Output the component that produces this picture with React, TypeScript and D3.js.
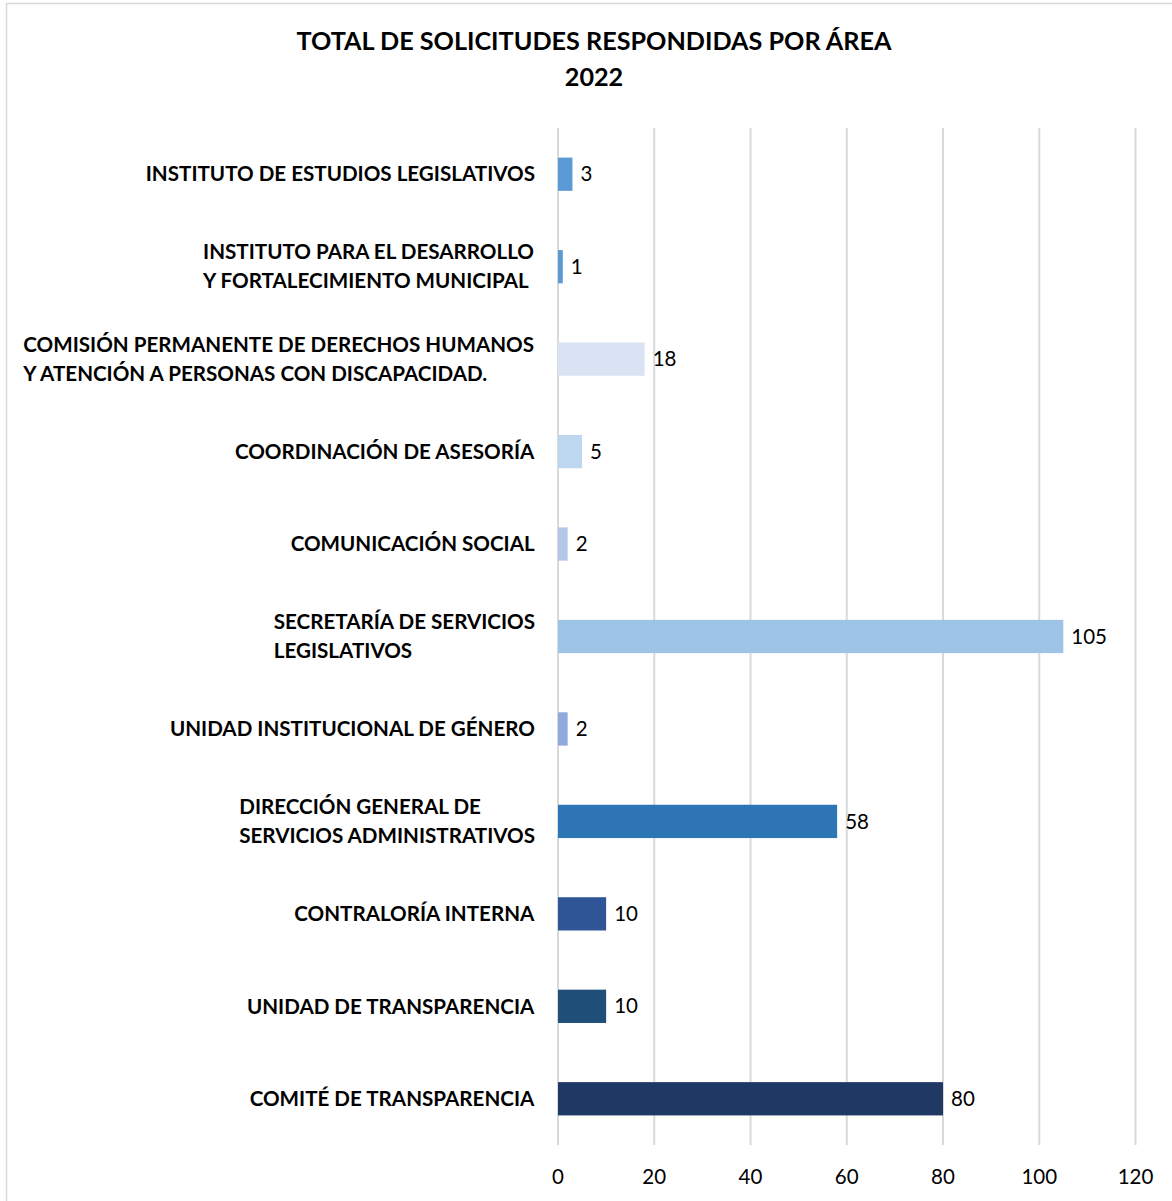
import { useEffect, useRef } from "react"
import * as d3 from "d3"

const categories = [
  "INSTITUTO DE ESTUDIOS LEGISLATIVOS",
  "INSTITUTO PARA EL DESARROLLO\nY FORTALECIMIENTO MUNICIPAL",
  "COMISIÓN PERMANENTE DE DERECHOS HUMANOS\nY ATENCIÓN A PERSONAS CON DISCAPACIDAD.",
  "COORDINACIÓN DE ASESORÍA",
  "COMUNICACIÓN SOCIAL",
  "SECRETARÍA DE SERVICIOS\nLEGISLATIVOS",
  "UNIDAD INSTITUCIONAL DE GÉNERO",
  "DIRECCIÓN GENERAL DE\nSERVICIOS ADMINISTRATIVOS",
  "CONTRALORÍA INTERNA",
  "UNIDAD DE TRANSPARENCIA",
  "COMITÉ DE TRANSPARENCIA",
]

const values = [3, 1, 18, 5, 2, 105, 2, 58, 10, 10, 80]

const barColors = [
  "#5B9BD5", "#5B9BD5", "#DAE3F3", "#BDD7EE", "#B4C7E7", "#9DC3E6",
  "#8FAADC", "#2E75B6", "#2F5597", "#1F4E79", "#203864",
]

const xTicks = [0, 20, 40, 60, 80, 100, 120]

const titleLines = ["TOTAL DE SOLICITUDES RESPONDIDAS POR ÁREA", "2022"]

const W = 1172
const H = 1201
const FONT = "Lato, 'Open Sans', sans-serif"

export default function App() {
  const svgRef = useRef<SVGSVGElement>(null)

  useEffect(() => {
    if (!svgRef.current) return
    const svg = d3.select(svgRef.current)
    svg.selectAll("*").remove()

    // chart frame
    svg.append("rect")
      .attr("x", 6.5).attr("y", 3.5)
      .attr("width", W + 20).attr("height", H + 20)
      .attr("fill", "white").attr("stroke", "#D9D9D9").attr("stroke-width", 1.5)

    // title
    svg.append("text")
      .attr("x", 594).attr("y", 50)
      .attr("text-anchor", "middle")
      .attr("font-family", FONT).attr("font-weight", "bold").attr("font-size", 25.2)
      .attr("fill", "#000")
      .selectAll("tspan")
      .data(titleLines)
      .enter()
      .append("tspan")
      .attr("x", 594)
      .attr("dy", (d, i) => (i === 0 ? 0 : 36))
      .text((d) => d)

    const x = d3.scaleLinear().domain([0, 120]).range([558, 1135.5])
    const y = d3.scaleBand().domain(categories).range([128, 1145]).paddingInner(0.64).paddingOuter(0.32)

    // gridlines
    svg.append("g")
      .selectAll("line")
      .data(xTicks)
      .enter()
      .append("line")
      .attr("x1", (d) => x(d)).attr("x2", (d) => x(d))
      .attr("y1", 128).attr("y2", 1145)
      .attr("stroke", "#D9D9D9").attr("stroke-width", 2)

    // tick labels
    svg.append("g")
      .selectAll("text")
      .data(xTicks)
      .enter()
      .append("text")
      .attr("x", (d) => x(d)).attr("y", 1184)
      .attr("text-anchor", "middle")
      .attr("font-family", FONT).attr("font-size", 20.5).attr("fill", "#000")
      .text((d) => d)

    // bars
    svg.append("g")
      .selectAll("rect")
      .data(categories)
      .enter()
      .append("rect")
      .attr("x", x(0))
      .attr("y", (d) => y(d)!)
      .attr("width", (d, i) => x(values[i]) - x(0))
      .attr("height", y.bandwidth())
      .attr("fill", (d, i) => barColors[i])

    // value labels
    svg.append("g")
      .selectAll("text")
      .data(categories)
      .enter()
      .append("text")
      .attr("x", (d, i) => x(values[i]) + 8)
      .attr("y", (d) => y(d)! + y.bandwidth() / 2)
      .attr("dy", "0.35em")
      .attr("font-family", FONT).attr("font-size", 20.5).attr("fill", "#000")
      .text((d, i) => values[i])

    // category labels, block right-aligned, lines left-aligned
    const labels = svg.append("g")
    categories.forEach((c) => {
      const lines = c.split("\n")
      const cy = y(c)! + y.bandwidth() / 2
      const t = labels.append("text")
        .attr("font-family", FONT).attr("font-weight", "bold").attr("font-size", 20.6)
        .attr("fill", "#000")
      lines.forEach((line, i) => {
        t.append("tspan")
          .attr("x", 0)
          .attr("y", cy + (i - (lines.length - 1) / 2) * 29)
          .attr("dy", "0.35em")
          .text(line)
      })
      const w = (t.node() as SVGTextElement).getBBox().width
      t.attr("transform", `translate(${535 - w},0)`)
    })
  }, [])

  return (
    <svg
      ref={svgRef}
      width={W}
      height={H}
      style={{ position: "absolute", left: 0, top: 0, background: "white" }}
    />
  )
}
